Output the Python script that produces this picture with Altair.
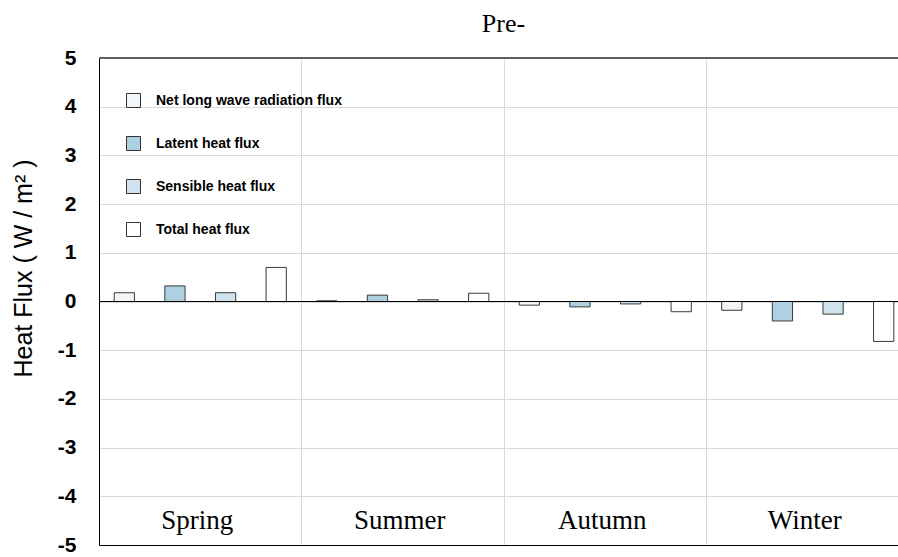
import altair as alt
import pandas as pd

# Seasonal heat-flux components (W/m^2)
seasons = ["Spring", "Summer", "Autumn", "Winter"]
series = ["Net long wave radiation flux", "Latent heat flux",
          "Sensible heat flux", "Total heat flux"]
net_lw = [0.18, 0.015, -0.075, -0.18]
latent = [0.32, 0.13, -0.11, -0.40]
sensible = [0.18, 0.035, -0.05, -0.26]
total = [0.70, 0.17, -0.21, -0.82]

colors = ["#f3f6f8", "#afd0e1", "#cfe2ee", "#ffffff"]
y_ticks = [-5, -4, -3, -2, -1, 0, 1, 2, 3, 4, 5]

rows = []
for name, vals in zip(series, [net_lw, latent, sensible, total]):
    for s, v in zip(seasons, vals):
        rows.append({"season": s, "series": name, "value": v})
df = pd.DataFrame(rows)
season_df = pd.DataFrame({"season": seasons})

W, H = 799, 487
x_scale = alt.Scale(domain=seasons, range=[0, 810], paddingInner=0, paddingOuter=0)

bars = alt.Chart(df).mark_bar(stroke="#3a3a3a", strokeWidth=1).encode(
    x=alt.X("season:N", scale=x_scale, sort=seasons,
            axis=alt.Axis(title=None, labels=False, ticks=False, bandPosition=0,
                          grid=True, gridColor="#d9d9d9", domainColor="#000000",
                          domainWidth=1)),
    xOffset=alt.XOffset("series:N", sort=series,
                        scale=alt.Scale(domain=series, paddingInner=0.6, paddingOuter=0.3)),
    y=alt.Y("value:Q", scale=alt.Scale(domain=[-5, 5], nice=False),
            axis=alt.Axis(values=y_ticks, title="Heat Flux ( W / m² )",
                          labelExpr="'' + datum.value",
                          grid=True, gridColor="#d9d9d9", ticks=False,
                          labelPadding=23, labelFontSize=21, labelFontWeight="bold",
                          labelFont="Liberation Sans", labelColor="#000000",
                          titleFont="Liberation Sans", titleFontSize=25,
                          titleFontWeight="normal", titleColor="#000000",
                          titleX=-76, titleY=210, titleAngle=270,
                          titleAlign="center", titleBaseline="middle",
                          domainColor="#000000", domainWidth=1)),
    fill=alt.Fill("series:N", sort=series,
                  scale=alt.Scale(domain=series, range=colors),
                  legend=alt.Legend(title=None, orient="none", legendX=27, legendY=35,
                                    symbolType="square", symbolSize=196,
                                    symbolStrokeColor="#333333", symbolStrokeWidth=1,
                                    symbolOpacity=1, labelLimit=0,
                                    labelFont="Liberation Sans", labelFontSize=14,
                                    labelFontWeight="bold", labelColor="#000000",
                                    labelOffset=15, rowPadding=24)),
)

top_line = alt.Chart(season_df).mark_rule(color="#595959", strokeWidth=1).encode(
    y=alt.datum(5))
zero_line = alt.Chart(season_df).mark_rule(color="#000000", strokeWidth=1).encode(
    y=alt.datum(0))

season_labels = alt.Chart(season_df).mark_text(
    font="Liberation Serif", fontSize=27, color="#000000", dx=-3, baseline="middle"
).encode(
    x=alt.X("season:N", scale=x_scale, sort=seasons),
    y=alt.datum(-4.5),
    text="season:N",
)

chart = alt.layer(top_line, bars, zero_line, season_labels).properties(
    width=W, height=H,
    title=alt.TitleParams("Pre-", font="Liberation Serif", fontSize=26,
                          fontWeight="normal", color="#000000",
                          anchor="middle", dx=5, offset=10),
    autosize=alt.AutoSizeParams(type="none"),
    padding={"left": 99, "top": 58, "right": 0, "bottom": 12},
).configure_view(stroke=None).configure(background="#ffffff")

chart.save("out.html", embed_options={"renderer": "svg", "actions": False})
